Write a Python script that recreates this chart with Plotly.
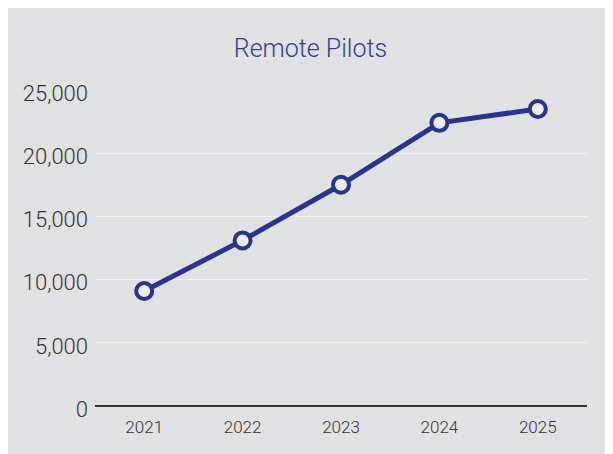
import plotly.graph_objects as go

years = ["2021", "2022", "2023", "2024", "2025"]
pilots = [9100, 13100, 17500, 22400, 23500]
y_ticks = [0, 5000, 10000, 15000, 20000, 25000]
y_tick_labels = ["0", "5,000", "10,000", "15,000", "20,000", "25,000"]

fig = go.Figure()
fig.add_trace(go.Scatter(
    x=years, y=pilots, mode="lines+markers",
    line=dict(color="#27358f", width=5),
    marker=dict(size=16, color="#eeeef2", line=dict(color="#27358f", width=4)),
    hoverinfo="x+y", showlegend=False,
))

fig.update_layout(
    width=605, height=446,
    paper_bgcolor="#e1e2e4", plot_bgcolor="#e1e2e4",
    margin=dict(l=87, r=26, t=82, b=48),
    font=dict(family="Roboto, Liberation Sans, sans-serif", color="#333333", weight=300),
    title=dict(text="Remote Pilots", x=0.5, xanchor="center", y=0.91, yanchor="middle",
               font=dict(size=25, color="#2f3d9c", weight=300)),
    xaxis=dict(type="category", range=[-0.5, 4.5], showgrid=False, showline=False,
               ticks="", tickfont=dict(size=17, color="#333333", weight=300),
               zeroline=False, ticklabelstandoff=9),
    yaxis=dict(range=[0, 25000], tickvals=y_ticks, ticktext=y_tick_labels,
               showgrid=True, gridcolor="#f2f2f2", gridwidth=1,
               zeroline=True, zerolinecolor="#333333", zerolinewidth=2,
               showline=False, ticks="", ticklen=0, ticklabelstandoff=6,
               ticklabelshift=3,
               tickfont=dict(size=22, color="#333333", weight=300)),
)

fig.write_html("out.html")
